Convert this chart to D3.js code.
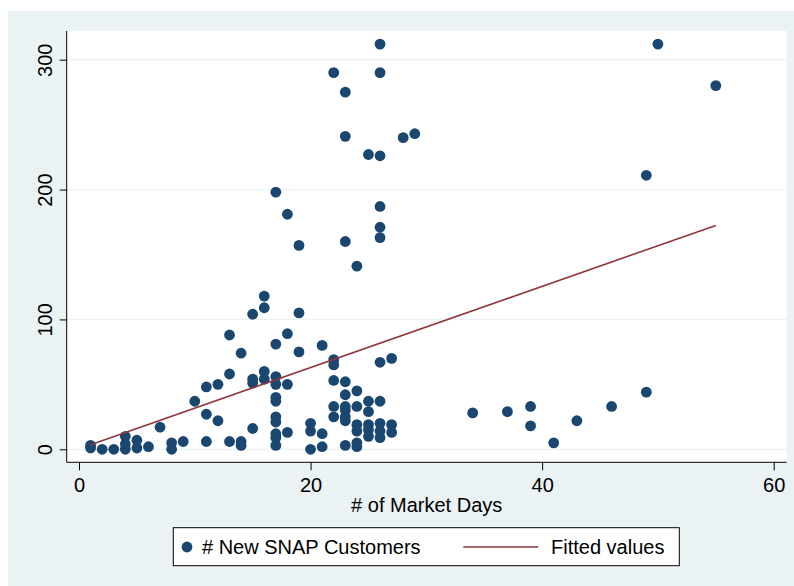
<!DOCTYPE html>
<html>
<head>
<meta charset="utf-8">
<script src="https://cdn.jsdelivr.net/npm/d3@7"></script>
<style>
  html, body { margin: 0; padding: 0; background: #fff; }
  svg { display: block; font-family: "Liberation Sans", Arial, sans-serif; }
</style>
</head>
<body>
<svg id="chart" width="794" height="586"></svg>
<script>
/* ------------------------------- data -------------------------------- */
// # of market days (x) and # new SNAP customers (y)
const marketDays = [
  1, 1, 2, 3, 4, 4, 4, 5, 5, 6, 7, 8, 8, 9, 10,
  11, 11, 11, 12, 12, 13, 13, 13, 14, 14, 14,
  15, 15, 15, 15, 16, 16, 16, 16,
  17, 17, 17, 17, 17, 17, 17, 17, 17, 17, 17,
  18, 18, 18, 18, 19, 19, 19, 20, 20, 20, 21, 21, 21,
  22, 22, 22, 22, 22, 22,
  23, 23, 23, 23, 23, 23, 23, 23, 23, 23,
  24, 24, 24, 24, 24, 24, 24,
  25, 25, 25, 25, 25, 25,
  26, 26, 26, 26, 26, 26, 26, 26, 26, 26, 26,
  27, 27, 27, 28, 29, 34, 37, 39, 39, 41, 43, 46, 49, 49, 50, 55
];
const newCustomers = [
  3, 1, 0, 0, 10, 4, 0, 7, 1, 2, 17, 5, 0, 6, 37,
  48, 27, 6, 50, 22, 88, 58, 6, 74, 6, 3,
  104, 54, 51, 16, 118, 109, 60, 54,
  198, 81, 56, 50, 40, 37, 25, 21, 12, 9, 3,
  181, 89, 50, 13, 157, 105, 75, 20, 14, 0, 80, 12, 2,
  290, 69, 65, 53, 33, 25,
  275, 241, 160, 52, 42, 33, 30, 25, 22, 3,
  141, 45, 33, 19, 14, 5, 2,
  227, 37, 29, 19, 15, 10,
  312, 290, 226, 187, 171, 163, 67, 37, 20, 14, 9,
  70, 19, 13, 240, 243, 28, 29, 33, 18, 5, 22, 33, 211, 44, 312, 280
];
// fitted (OLS) line end points
const fitDays   = [1, 55];
const fitValues = [3.5, 172.4];

const xTicks = [0, 20, 40, 60];
const yTicks = [0, 100, 200, 300];
const legendLabels = ['# New SNAP Customers', 'Fitted values'];

/* ------------------------------- layout ------------------------------ */
const NAVY   = '#1a476f';
const MAROON = '#90353b';
const BG     = '#eaf2f3';
const PLOT   = {left: 66.7, right: 786.7, top: 31, bottom: 462.3};

const svg = d3.select('#chart');

svg.append('rect').attr('x', 8).attr('y', 11).attr('width', 786).attr('height', 575).attr('fill', BG);
svg.append('rect')
  .attr('x', PLOT.left).attr('y', PLOT.top)
  .attr('width', PLOT.right - PLOT.left).attr('height', PLOT.bottom - PLOT.top)
  .attr('fill', '#fff');

const xScale = d3.scaleLinear().domain([0, 60]).range([79, 773.7]);
const yScale = d3.scaleLinear().domain([0, 300]).range([449.3, 59.7]);

/* ------------------------------- grid & axes ------------------------- */
svg.append('g').selectAll('line')
  .data(yTicks)
  .join('line')
  .attr('x1', PLOT.left).attr('x2', PLOT.right)
  .attr('y1', d => yScale(d)).attr('y2', d => yScale(d))
  .attr('stroke', BG).attr('stroke-width', 1.2);

const yAxisG = svg.append('g')
  .attr('transform', `translate(${PLOT.left},0)`)
  .call(d3.axisLeft(yScale).tickValues(yTicks).tickSize(7).tickSizeOuter(0));
yAxisG.select('.domain').remove();
yAxisG.selectAll('text')
  .attr('x', 0).attr('dy', 0).attr('y', 0)
  .attr('transform', 'translate(-14.7,0) rotate(-90)')
  .attr('text-anchor', 'middle');

const xAxisG = svg.append('g')
  .attr('transform', `translate(0,${PLOT.bottom})`)
  .call(d3.axisBottom(xScale).tickValues(xTicks).tickSize(8).tickSizeOuter(0));
xAxisG.select('.domain').remove();
xAxisG.selectAll('text').attr('dy', 0).attr('y', 29.4);

svg.selectAll('.tick line').attr('stroke', '#000');
svg.selectAll('.tick text').attr('fill', '#000').style('font-size', '20px')
  .style('font-family', '"Liberation Sans", Arial, sans-serif');

svg.append('line')
  .attr('x1', PLOT.left).attr('x2', PLOT.left)
  .attr('y1', PLOT.top).attr('y2', PLOT.bottom)
  .attr('stroke', '#000').attr('stroke-width', 1);
svg.append('line')
  .attr('x1', PLOT.left).attr('x2', PLOT.right)
  .attr('y1', PLOT.bottom).attr('y2', PLOT.bottom)
  .attr('stroke', '#000').attr('stroke-width', 1);

svg.append('text')
  .attr('x', (PLOT.left + PLOT.right) / 2).attr('y', 512)
  .attr('text-anchor', 'middle')
  .style('font-size', '20px')
  .text('# of Market Days');

/* ------------------------------- marks ------------------------------- */
svg.append('g').selectAll('circle')
  .data(d3.zip(marketDays, newCustomers))
  .join('circle')
  .attr('cx', d => xScale(d[0]))
  .attr('cy', d => yScale(d[1]))
  .attr('r', 5.4)
  .attr('fill', NAVY);

svg.append('path')
  .datum(d3.zip(fitDays, fitValues))
  .attr('d', d3.line().x(d => xScale(d[0])).y(d => yScale(d[1])))
  .attr('fill', 'none')
  .attr('stroke', MAROON)
  .attr('stroke-width', 1.6);

/* ------------------------------- legend ------------------------------ */
const legend = svg.append('g');
legend.append('rect')
  .attr('x', 173.3).attr('y', 527.7).attr('width', 506).attr('height', 38)
  .attr('fill', '#fff').attr('stroke', '#000').attr('stroke-width', 1);
legend.append('circle').attr('cx', 187).attr('cy', 547).attr('r', 5.4).attr('fill', NAVY);
legend.append('text').attr('x', 202).attr('y', 554.3).style('font-size', '20px').text(legendLabels[0]);
legend.append('line')
  .attr('x1', 463.3).attr('x2', 538.3).attr('y1', 547).attr('y2', 547)
  .attr('stroke', MAROON).attr('stroke-width', 1.6);
legend.append('text').attr('x', 551).attr('y', 554.3).style('font-size', '20px').text(legendLabels[1]);
</script>
</body>
</html>
